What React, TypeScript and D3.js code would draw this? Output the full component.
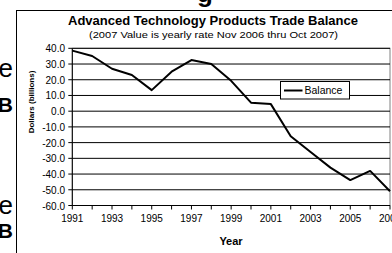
import React from 'react';
import * as d3 from 'd3';

// values (billions of dollars)
const years = [1991, 1992, 1993, 1994, 1995, 1996, 1997, 1998, 1999, 2000, 2001, 2002, 2003, 2004, 2005, 2006, 2007];
const balance = [38.5, 35.1, 27.0, 23.0, 13.4, 25.1, 32.5, 30.0, 19.3, 5.4, 4.5, -15.9, -26.0, -35.9, -43.8, -38.0, -50.9];
const yTicks = [40, 30, 20, 10, 0, -10, -20, -30, -40, -50, -60];
const xLabels = [1991, 1993, 1995, 1997, 1999, 2001, 2003, 2005, 2007];

const W = 392;
const H = 253;
const font = 'Arial, "Liberation Sans", sans-serif';

const App: React.FC = () => {
  const x = d3.scaleLinear().domain([1991, 2007]).range([72.3, 390]);
  const y = d3.scaleLinear().domain([-60, 40]).range([205.5, 48.3]);

  const line = d3.line<number>()
    .x((_, i) => x(years[i]))
    .y(d => y(d));

  const [x0, x1] = x.range();
  const [yb, yt] = y.range();

  return (
    <svg width={W} height={H} style={{ position: 'absolute', left: 0, top: 0, background: '#fff' }} fontFamily={font}>
      <rect x={0} y={0} width={W} height={H} fill="#fff" />

      {/* bits of the surrounding page that were cropped */}
      <text x={205} y={2} fontSize={26} fontWeight="bold" textAnchor="middle">g</text>
      <text x={13} y={77} fontSize={26} textAnchor="end">e</text>
      <text x={13} y={112} fontSize={21} fontWeight="bold" textAnchor="end">B</text>
      <text x={13} y={214} fontSize={26} textAnchor="end">e</text>
      <text x={13} y={238} fontSize={21} fontWeight="bold" textAnchor="end">B</text>

      {/* chart frame */}
      <rect x={16.5} y={10.5} width={W + 10} height={H + 10} fill="#fff" stroke="#000" strokeWidth={1} />

      {/* titles */}
      <text x={68} y={25} fontSize={12} fontWeight="bold" textLength={290} lengthAdjust="spacingAndGlyphs">
        Advanced Technology Products Trade Balance
      </text>
      <text x={89} y={37.5} fontSize={9.5} textLength={249} lengthAdjust="spacingAndGlyphs">
        (2007 Value is yearly rate Nov 2006 thru Oct 2007)
      </text>

      {/* plot area border */}
      <rect x={x0} y={yt} width={x1 - x0} height={yb - yt} fill="#fff" stroke="#808080" strokeWidth={1} />

      {/* gridlines + y axis */}
      {yTicks.map(t => (
        <g key={t}>
          <line x1={x0} x2={x1} y1={y(t)} y2={y(t)} stroke="#000" strokeWidth={1} />
          <line x1={x0 - 4} x2={x0} y1={y(t)} y2={y(t)} stroke="#000" strokeWidth={1} />
          <text x={65} y={y(t) + 4} fontSize={10} textAnchor="end">{t.toFixed(1)}</text>
        </g>
      ))}
      <line x1={x0} x2={x0} y1={yt} y2={yb} stroke="#000" strokeWidth={1} />

      {/* x axis */}
      <line x1={x0} x2={x1} y1={yb} y2={yb} stroke="#000" strokeWidth={1} />
      {years.map(yr => (
        <line key={yr} x1={x(yr)} x2={x(yr)} y1={yb} y2={yb + 4} stroke="#000" strokeWidth={1} />
      ))}
      {xLabels.map(yr => (
        <text key={yr} x={x(yr)} y={221.5} fontSize={10} textAnchor="middle">{yr}</text>
      ))}

      {/* axis titles */}
      <text x={231} y={245} fontSize={11} fontWeight="bold" textAnchor="middle">Year</text>
      <text transform="translate(34,102) rotate(-90)" fontSize={8} fontWeight="bold" textAnchor="middle">
        Dollars (billions)
      </text>

      {/* series */}
      <path d={line(balance) ?? ''} fill="none" stroke="#000" strokeWidth={2} strokeLinejoin="round" />

      {/* legend */}
      <rect x={280.5} y={81.5} width={69} height={17.5} fill="#fff" stroke="#000" strokeWidth={1} />
      <line x1={284} x2={302.5} y1={90.5} y2={90.5} stroke="#000" strokeWidth={2} />
      <text x={304.5} y={94.3} fontSize={10.5}>Balance</text>
    </svg>
  );
};

export default App;
